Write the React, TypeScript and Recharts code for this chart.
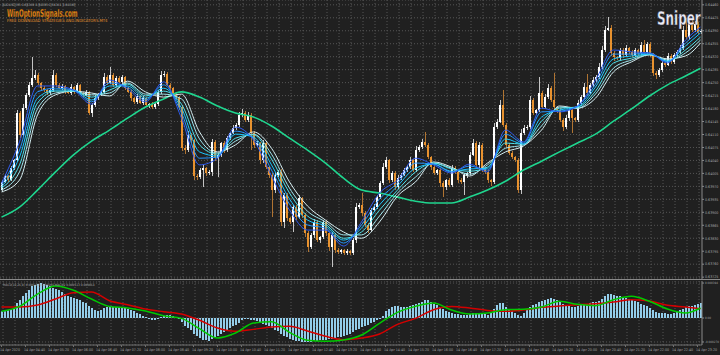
import React from 'react';
import { ComposedChart, Bar, Line, XAxis, YAxis, CartesianGrid } from 'recharts';

// prices in points (x 1e-5), one entry per 5-minute candle
const OPEN = [
  63960, 63982, 63998, 63987, 64019, 64041, 64168, 64109, 64181, 64217,
  64244, 64262, 64271, 64249, 64235, 64230, 64222, 64230, 64271, 64244,
  64235, 64241, 64225, 64222, 64238, 64225, 64244, 64222, 64217, 64225,
  64168, 64190, 64208, 64217, 64225, 64265, 64249, 64271, 64244, 64262,
  64252, 64265, 64235, 64225, 64208, 64198, 64214, 64195, 64208, 64190,
  64192, 64184, 64192, 64225, 64271, 64273, 64244, 64235, 64217, 64211,
  64184, 64073, 64068, 64109, 64095, 63998, 63995, 64014, 64019, 64006,
  64009, 64090, 64046, 64055, 64087, 64068, 64100, 64114, 64127, 64136,
  64163, 64168, 64149, 64163, 64114, 64082, 64087, 64041, 64087, 64022,
  64001, 63960, 64001, 64009, 63874, 63947, 63884, 63874, 63914, 63887,
  63938, 63893, 63844, 63806, 63839, 63874, 63825, 63833, 63874, 63844,
  63806, 63839, 63798, 63793, 63798, 63790, 63795, 63790, 63825, 63914,
  63920, 63898, 63866, 63852, 63906, 63914, 63941, 63979, 64022, 64041,
  63987, 64006, 63968, 63992, 64001, 64014, 64022, 64041, 64014, 64068,
  64076, 64090, 64082, 64049, 64022, 64006, 64014, 63979, 63968, 63987,
  63974, 64019, 64009, 63987, 63982, 64001, 64006, 64055, 64087, 64028,
  64082, 64019, 64009, 63987, 63982, 64130, 64144, 64190, 64136, 64082,
  64060, 64049, 64041, 63960, 64114, 64127, 64130, 64203, 64168, 64176,
  64222, 64184, 64211, 64235, 64203, 64184, 64176, 64149, 64130, 64154,
  64176, 64154, 64149, 64195, 64211, 64238, 64222, 64244, 64257, 64265,
  64292, 64338, 64392, 64397, 64330, 64319, 64316, 64338, 64325, 64343,
  64333, 64325, 64338, 64330, 64352, 64333, 64354, 64325, 64276, 64271,
  64284, 64303, 64298, 64322, 64306, 64325, 64333, 64343, 64392, 64373,
  64414, 64392, 64408, 64387,
];
const CLOSE = [
  63982, 63998, 63987, 64019, 64041, 64168, 64109, 64181, 64217, 64244,
  64262, 64271, 64249, 64235, 64230, 64222, 64230, 64271, 64244, 64235,
  64241, 64225, 64222, 64238, 64225, 64244, 64222, 64217, 64225, 64168,
  64190, 64208, 64217, 64225, 64265, 64249, 64271, 64244, 64262, 64252,
  64265, 64235, 64225, 64208, 64198, 64214, 64195, 64208, 64190, 64192,
  64184, 64192, 64225, 64271, 64273, 64244, 64235, 64217, 64211, 64184,
  64073, 64068, 64109, 64095, 63998, 63995, 64014, 64019, 64006, 64009,
  64090, 64046, 64055, 64087, 64068, 64100, 64114, 64127, 64136, 64163,
  64168, 64149, 64163, 64114, 64082, 64087, 64041, 64087, 64022, 64001,
  63960, 64001, 64009, 63874, 63947, 63884, 63874, 63914, 63887, 63938,
  63893, 63844, 63806, 63839, 63874, 63825, 63833, 63874, 63844, 63806,
  63839, 63798, 63793, 63798, 63790, 63795, 63790, 63825, 63914, 63920,
  63898, 63866, 63852, 63906, 63914, 63941, 63979, 64022, 64041, 63987,
  64006, 63968, 63992, 64001, 64014, 64022, 64041, 64014, 64068, 64076,
  64090, 64082, 64049, 64022, 64006, 64014, 63979, 63968, 63987, 63974,
  64019, 64009, 63987, 63982, 64001, 64006, 64055, 64087, 64028, 64082,
  64019, 64009, 63987, 63982, 64130, 64144, 64190, 64136, 64082, 64060,
  64049, 64041, 63960, 64114, 64127, 64130, 64203, 64168, 64176, 64222,
  64184, 64211, 64235, 64203, 64184, 64176, 64149, 64130, 64154, 64176,
  64154, 64149, 64195, 64211, 64238, 64222, 64244, 64257, 64265, 64292,
  64338, 64392, 64397, 64330, 64319, 64316, 64338, 64325, 64343, 64333,
  64325, 64338, 64330, 64352, 64333, 64354, 64325, 64276, 64271, 64284,
  64303, 64298, 64322, 64306, 64325, 64333, 64343, 64392, 64373, 64414,
  64392, 64408, 64387, 64389,
];
// upper / lower wick lengths in points
const WICK_UP = [
  4, 5, 3, 6, 4, 8, 5, 10, 6, 8,
  57, 12, 6, 4, 5, 3, 6, 12, 4, 5,
  6, 3, 5, 8, 4, 6, 3, 4, 6, 3,
  5, 8, 4, 6, 10, 5, 22, 4, 7, 5,
  6, 4, 3, 5, 4, 6, 3, 5, 4, 3,
  5, 4, 6, 10, 8, 5, 4, 3, 5, 4,
  6, 8, 10, 5, 4, 6, 5, 8, 4, 5,
  8, 5, 6, 4, 5, 6, 4, 8, 5, 7,
  10, 5, 8, 4, 6, 5, 4, 8, 5, 4,
  6, 5, 4, 8, 6, 5, 4, 6, 5, 8,
  4, 5, 6, 4, 8, 5, 4, 6, 5, 4,
  8, 4, 5, 3, 4, 5, 3, 6, 10, 5,
  32, 6, 4, 5, 8, 6, 5, 10, 8, 4,
  5, 6, 8, 4, 5, 6, 8, 4, 10, 6,
  8, 27, 6, 4, 5, 4, 6, 5, 4, 6,
  8, 5, 4, 5, 6, 4, 8, 10, 6, 8,
  5, 4, 6, 4, 10, 8, 12, 40, 6, 4,
  5, 4, 6, 10, 8, 6, 12, 5, 4, 43,
  6, 8, 10, 5, 73, 4, 5, 6, 8, 6,
  5, 4, 8, 6, 10, 35, 6, 8, 5, 10,
  12, 10, 30, 8, 5, 4, 6, 5, 8, 4,
  5, 6, 4, 8, 14, 6, 5, 4, 6, 5,
  6, 4, 8, 5, 6, 5, 8, 10, 32, 8,
  6, 8, 5, 6,
];
const WICK_DN = [
  5, 4, 6, 3, 5, 6, 8, 5, 4, 6,
  5, 4, 6, 8, 4, 5, 6, 4, 5, 3,
  5, 6, 4, 5, 6, 4, 5, 6, 4, 6,
  11, 5, 6, 4, 5, 6, 4, 5, 6, 4,
  5, 6, 4, 8, 5, 6, 4, 5, 6, 8,
  6, 5, 4, 6, 5, 4, 6, 5, 4, 8,
  8, 10, 6, 8, 12, 8, 6, 46, 8, 6,
  10, 8, 51, 6, 8, 5, 6, 4, 5, 6,
  5, 6, 4, 46, 8, 6, 10, 8, 6, 8,
  73, 8, 6, 10, 16, 8, 6, 27, 8, 6,
  8, 10, 12, 6, 8, 6, 8, 6, 8, 10,
  54, 8, 6, 5, 6, 4, 5, 6, 8, 6,
  8, 6, 8, 5, 6, 4, 6, 5, 4, 8,
  6, 8, 5, 6, 4, 5, 6, 4, 5, 6,
  4, 5, 6, 8, 6, 5, 10, 27, 8, 6,
  5, 6, 8, 6, 35, 8, 5, 4, 6, 8,
  10, 6, 8, 10, 6, 5, 4, 6, 8, 6,
  5, 6, 8, 10, 6, 5, 4, 6, 5, 4,
  6, 5, 4, 6, 5, 8, 6, 10, 6, 8,
  40, 6, 5, 4, 6, 5, 4, 6, 5, 4,
  6, 5, 4, 8, 10, 6, 5, 8, 6, 5,
  6, 5, 8, 6, 5, 6, 5, 8, 10, 6,
  5, 6, 4, 5, 6, 4, 5, 6, 5, 8,
  6, 5, 6, 5,
];

// moving averages read every 6th candle (points x 1e-5)
const SAMPLE_IDX = [0, 6, 12, 18, 24, 30, 36, 42, 48, 54, 60, 66, 72, 78, 84, 90, 96, 102, 108, 114,
  120, 126, 132, 138, 144, 150, 156, 162, 168, 174, 180, 186, 192, 198, 204, 210, 216, 222, 228, 233];
const EMA1 = [63979, 64090, 64241, 64241, 64230, 64192, 64257, 64233, 64198, 64252, 64154, 64028, 64046, 64130, 64095, 63998, 63906, 63852, 63852, 63809,
  63874, 63952, 63987, 64046, 64028, 64006, 64030, 64009, 64122, 64090, 64181, 64171, 64187, 64257, 64338, 64333, 64330, 64303, 64365, 64400];
const EMA2 = [63974, 64068, 64225, 64235, 64230, 64198, 64249, 64238, 64203, 64244, 64168, 64046, 64049, 64119, 64100, 64014, 63922, 63866, 63857, 63817,
  63866, 63936, 63979, 64033, 64030, 64009, 64025, 64014, 64111, 64087, 64171, 64173, 64187, 64246, 64327, 64327, 64330, 64306, 64357, 64392];
const EMA3 = [63968, 64049, 64208, 64230, 64230, 64203, 64241, 64241, 64208, 64235, 64181, 64063, 64052, 64111, 64103, 64028, 63936, 63879, 63863, 63825,
  63857, 63920, 63971, 64019, 64030, 64011, 64017, 64019, 64098, 64084, 64157, 64176, 64184, 64238, 64314, 64322, 64327, 64308, 64349, 64384];
const EMA4 = [63965, 64028, 64195, 64227, 64227, 64211, 64230, 64246, 64214, 64227, 64192, 64082, 64057, 64100, 64109, 64044, 63952, 63890, 63868, 63830,
  63847, 63906, 63960, 64009, 64033, 64017, 64011, 64022, 64087, 64084, 64146, 64181, 64184, 64227, 64303, 64316, 64327, 64308, 64338, 64373];
const EMA5 = [63960, 64009, 64179, 64222, 64227, 64217, 64222, 64249, 64219, 64219, 64206, 64098, 64060, 64092, 64111, 64057, 63965, 63903, 63874, 63839,
  63839, 63890, 63952, 63995, 64033, 64019, 64003, 64028, 64073, 64082, 64133, 64184, 64181, 64219, 64289, 64311, 64325, 64311, 64330, 64365];
const EMA6 = [63955, 63987, 64163, 64217, 64227, 64222, 64214, 64254, 64225, 64211, 64219, 64117, 64063, 64082, 64117, 64073, 63982, 63917, 63879, 63847,
  63830, 63874, 63944, 63982, 64036, 64022, 63998, 64033, 64063, 64079, 64122, 64187, 64181, 64208, 64279, 64306, 64325, 64314, 64322, 64357];
const SLOW_MA = [63887, 63914, 63960, 64009, 64055, 64092, 64122, 64154, 64184, 64206, 64225, 64211, 64187, 64168, 64157, 64133, 64100, 64068, 64033, 63992,
  63960, 63952, 63941, 63930, 63925, 63925, 63941, 63960, 63984, 64014, 64038, 64063, 64087, 64111, 64146, 64179, 64214, 64244, 64268, 64289];

// MACD window values in millionths
const HIST = [
  75, 75, 87, 101, 113, 169, 203, 248, 282, 315,
  360, 372, 383, 394, 383, 372, 360, 338, 327, 315,
  293, 270, 248, 236, 225, 214, 203, 180, 169, 135,
  113, 90, 79, 90, 113, 124, 124, 124, 124, 124,
  113, 113, 101, 90, 79, 56, 45, 23, 11, -11,
  -23, -23, -11, 11, 23, 34, 34, 23, 11, -11,
  -45, -90, -113, -135, -180, -203, -225, -248, -248, -259,
  -236, -225, -203, -180, -158, -135, -113, -90, -79, -56,
  -23, -11, -11, -23, -23, -34, -45, -68, -79, -90,
  -113, -135, -146, -180, -203, -214, -236, -248, -259, -259,
  -270, -270, -270, -270, -259, -259, -248, -248, -248, -236,
  -236, -225, -214, -214, -203, -191, -180, -158, -135, -124,
  -101, -90, -79, -56, -45, -23, -11, 23, 79, 101,
  124, 135, 135, 124, 124, 124, 135, 146, 158, 169,
  180, 203, 203, 180, 158, 146, 124, 101, 79, 68,
  56, 45, 45, 34, 34, 34, 45, 56, 56, 56,
  45, 45, 34, 68, 101, 146, 169, 169, 124, 101,
  79, 56, 34, 23, 56, 90, 124, 146, 158, 180,
  191, 203, 214, 225, 214, 203, 180, 158, 135, 135,
  124, 124, 135, 146, 158, 158, 169, 180, 180, 191,
  214, 248, 270, 270, 259, 248, 248, 236, 225, 214,
  203, 191, 180, 158, 146, 135, 113, 90, 68, 56,
  56, 56, 45, 45, 56, 68, 90, 101, 124, 135,
  135, 146, 158, 169,
];
const MACD_GREEN = [75, 131, 270, 360, 312, 214, 131, 113, 79, 26, -4, -120, -225, -169, -56, -41, -161, -251, -263, -248,
  -191, -60, 64, 131, 169, 90, 45, 56, 94, 98, 124, 188, 154, 139, 206, 244, 188, 101, 56, 113];
const MACD_RED = [124, 124, 146, 214, 285, 293, 195, 150, 101, 71, 45, -26, -113, -150, -128, -101, -94, -146, -206, -244,
  -225, -180, -71, -4, 94, 131, 113, 86, 75, 90, 120, 135, 150, 161, 180, 206, 191, 143, 124, 105];

const PRICE_TICKS = [0.6446, 0.64425, 0.6439, 0.64355, 0.6432, 0.64285, 0.6425, 0.64215, 0.6418, 0.64145, 0.6411,
  0.64075, 0.6404, 0.64005, 0.6397, 0.63935, 0.639, 0.63865, 0.6383, 0.63795, 0.6376, 0.63725];
const MACD_TICKS = [0.000394, 0, -0.00027];
const TIME_TICKS = [0, 8, 16, 24, 32, 40, 48, 56, 64, 72, 80, 88, 96, 104, 112, 120, 128, 136, 144, 152,
  160, 168, 176, 184, 192, 200, 208, 216, 224, 232];
const TIME_LABELS = ['14 Apr 2020', '14 Apr 04:40', '14 Apr 05:20', '14 Apr 06:00', '14 Apr 06:40', '14 Apr 07:20',
  '14 Apr 08:00', '14 Apr 08:40', '14 Apr 09:20', '14 Apr 10:00', '14 Apr 10:40', '14 Apr 11:20', '14 Apr 12:00',
  '14 Apr 12:40', '14 Apr 13:20', '14 Apr 14:00', '14 Apr 14:40', '14 Apr 15:20', '14 Apr 16:00', '14 Apr 16:40',
  '14 Apr 17:20', '14 Apr 18:00', '14 Apr 18:40', '14 Apr 19:20', '14 Apr 20:00', '14 Apr 20:40', '14 Apr 21:20',
  '14 Apr 22:00', '14 Apr 22:40', '14 Apr 23:20'];

const EMAS = [EMA1, EMA2, EMA3, EMA4, EMA5, EMA6];
const rows = CLOSE.map((c, i) => {
  const o = OPEN[i];
  const h = Math.max(o, c) + WICK_UP[i];
  const l = Math.min(o, c) - WICK_DN[i];
  const row: any = {
    i, o: o / 1e5, c: c / 1e5, h: h / 1e5, l: l / 1e5,
    range: [l / 1e5, h / 1e5], hist: HIST[i] / 1e6,
    e1: null, e2: null, e3: null, e4: null, e5: null, e6: null, ma: null, mg: null, mr: null,
  };
  const k = SAMPLE_IDX.indexOf(i);
  if (k >= 0) {
    EMAS.forEach((arr, j) => { row['e' + (j + 1)] = arr[k] / 1e5; });
    row.ma = SLOW_MA[k] / 1e5;
    row.mg = MACD_GREEN[k] / 1e6;
    row.mr = MACD_RED[k] / 1e6;
  }
  return row;
});

const W = 720;
const BG = '#202020';
const GRID = '#555555';
const FONT = 'DejaVu Sans Condensed, DejaVu Sans, sans-serif';
const VGRID: number[] = [];
for (let x = 3; x < 702; x += 12) VGRID.push(x);

const Candle = (props: any) => {
  const { x, y, width, height, payload } = props;
  if (!payload || height == null) return null;
  const { o, c, h, l } = payload;
  const k = height / (h - l);
  const yO = y + (h - o) * k;
  const yC = y + (h - c) * k;
  const up = c >= o;
  const cx = Math.floor(x + width / 2);
  const top = Math.min(yO, yC);
  const bh = Math.max(1, Math.abs(yO - yC));
  return (
    <g shapeRendering="crispEdges">
      <rect x={cx} y={y} width={1} height={height} fill={up ? '#c4c4c4' : '#b07432'} />
      <rect x={cx - 1} y={top} width={2} height={bh} fill={up ? '#ffffff' : '#e8922f'} />
    </g>
  );
};

const PriceTick = (p: any) => (
  <text x={p.x} y={p.y} dy={1.3} fontSize={3.6} fill="#a0a0a0" fontFamily={FONT}>
    {Number(p.payload.value).toFixed(5)}
  </text>
);
const MacdTick = (p: any) => {
  const v = Number(p.payload.value);
  const s = v === 0 ? '0.00' : v.toFixed(6);
  return (
    <text x={p.x} y={p.y} dy={1.2} fontSize={3} fill="#a0a0a0" fontFamily={FONT}>{s}</text>
  );
};
const TimeTick = (p: any) => {
  const idx = TIME_TICKS.indexOf(Number(p.payload.value));
  const s = idx >= 0 ? TIME_LABELS[idx] : '';
  return (
    <text x={p.x - 1.5} y={p.y} dy={3.2} fontSize={3.6} fill="#a0a0a0" fontFamily={FONT}>{s}</text>
  );
};

const RIBBON_COLORS = ['#2f5cf0', '#2496ff', '#1cc6ff', '#4fe0ea', '#9fe6ef', '#d6eef2'];

export default function App() {
  return (
    <div style={{ position: 'absolute', left: 0, top: 0, width: W, height: 355, background: BG, overflow: 'hidden' }}>
      <div style={{ position: 'absolute', left: 0, top: 0 }}>
        <ComposedChart width={W} height={279} data={rows} margin={{ top: 0, right: 0, bottom: 0, left: 0 }}>
          <CartesianGrid stroke={GRID} strokeDasharray="1 2" verticalPoints={VGRID} />
          <XAxis dataKey="i" hide />
          <YAxis orientation="right" width={18} domain={[0.6372, 0.64473]} allowDataOverflow ticks={PRICE_TICKS}
            interval={0} tick={PriceTick} tickSize={2} tickMargin={1} axisLine={{ stroke: '#8a8a8a' }}
            tickLine={{ stroke: '#8a8a8a' }} />
          <Bar dataKey="range" barSize={2} shape={Candle} isAnimationActive={false} />
          <Line dataKey="ma" type="monotone" stroke="#1fd68f" strokeWidth={1.6} dot={false} activeDot={false}
            connectNulls isAnimationActive={false} />
          {[5, 4, 3, 2, 1, 0].map((j) => (
            <Line key={j} dataKey={'e' + (j + 1)} type="monotone" stroke={RIBBON_COLORS[j]} strokeWidth={1}
              dot={false} activeDot={false} connectNulls isAnimationActive={false} />
          ))}
        </ComposedChart>
      </div>
      <div style={{ position: 'absolute', left: 0, top: 281 }}>
        <ComposedChart width={W} height={74} data={rows} margin={{ top: 0, right: 0, bottom: 0, left: 0 }}>
          <CartesianGrid stroke={GRID} strokeDasharray="1 2" verticalPoints={VGRID} />
          <XAxis dataKey="i" ticks={TIME_TICKS} interval={0} height={10} tick={TimeTick} tickSize={2} tickMargin={1}
            axisLine={{ stroke: '#6e6e6e' }} tickLine={{ stroke: '#6e6e6e' }} />
          <YAxis orientation="right" width={18} domain={[-0.000304, 0.000417]} allowDataOverflow ticks={MACD_TICKS}
            interval={0} tick={MacdTick} tickSize={2} tickMargin={1} axisLine={{ stroke: '#8a8a8a' }}
            tickLine={{ stroke: '#8a8a8a' }} />
          <Bar dataKey="hist" barSize={2} fill="#93cdea" isAnimationActive={false} />
          <Line dataKey="mr" type="monotone" stroke="#d40000" strokeWidth={1.5} dot={false} activeDot={false}
            connectNulls isAnimationActive={false} />
          <Line dataKey="mg" type="monotone" stroke="#00c800" strokeWidth={1.5} dot={false} activeDot={false}
            connectNulls isAnimationActive={false} />
        </ComposedChart>
      </div>
      <svg width={W} height={355} style={{ position: 'absolute', left: 0, top: 0, pointerEvents: 'none' }}>
        <line x1={0} x2={720} y1={279.5} y2={279.5} stroke="#8a8a8a" strokeWidth={1} />
        <text x={2} y={5.5} fontSize={3.4} fill="#a8a8a8" fontFamily={FONT}>
          AUDUSD,M5  0.64389 0.64395 0.64381 0.64389
        </text>
        <text transform="translate(7,16.5) scale(0.56,1)" x={0} y={0} fontSize={11} fontWeight="bold" fill="#f7941d"
          stroke="#3a2000" strokeWidth={0.3} fontFamily={FONT}>WinOptionSignals.com</text>
        <text x={7} y={22} fontSize={4.2} fill="#e8962e" fontFamily={FONT}>
          FREE DOWNLOAD STRATEGIES AND INDICATORS MT4
        </text>
        <text transform="translate(657,25) scale(0.7,1)" x={0} y={0} fontSize={19} fontWeight="bold" fill="#ececf6"
          stroke="#30304a" strokeWidth={0.4} fontFamily={FONT}>Sniper</text>
        <text x={3} y={286} fontSize={3.2} fill="#a8a8a8" fontFamily={FONT}>
          MACD(12,26,9) 0.000169 0.000105  MACD2 0.000113 0.000064
        </text>
      </svg>
    </div>
  );
}
